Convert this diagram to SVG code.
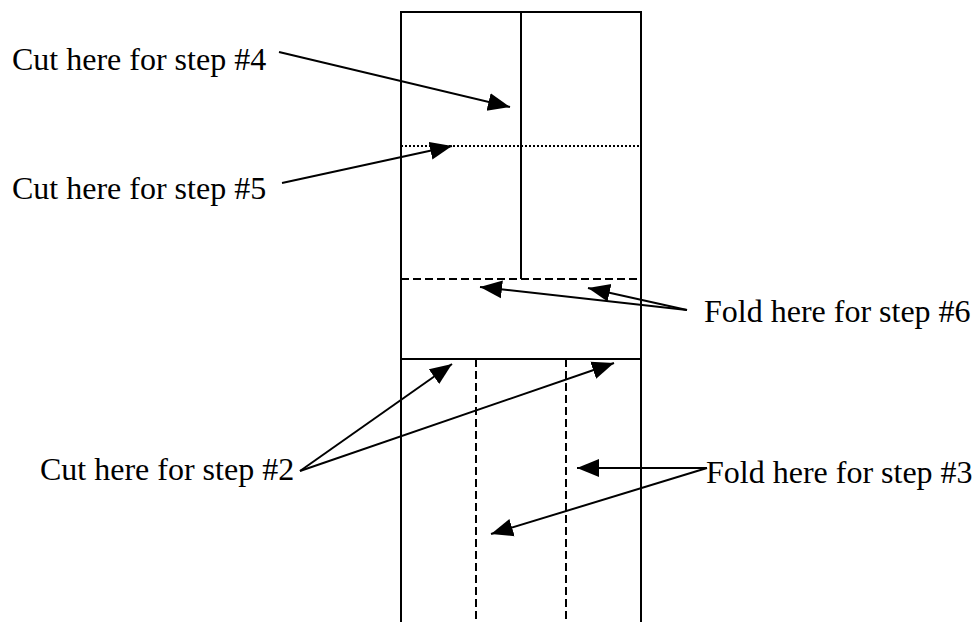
<svg xmlns="http://www.w3.org/2000/svg" width="974" height="622" viewBox="0 0 974 622">
<style>
.solid{stroke:#000;stroke-width:2;fill:none}
.dash{stroke:#000;stroke-width:2;fill:none;stroke-dasharray:8,4}
.dot{stroke:#000;stroke-width:2;fill:none;stroke-dasharray:2,2}
.arr{stroke:#000;stroke-width:2;fill:none;marker-end:url(#ah)}
text{font-family:"Liberation Serif","Times New Roman",serif;font-size:32px;fill:#000}
</style>
<defs>
<marker id="ah" markerUnits="userSpaceOnUse" markerWidth="24" markerHeight="20" refX="22" refY="9" orient="auto" viewBox="0 0 24 18">
<path d="M0,0 L22,9 L0,18 z" fill="#000"/>
</marker>
</defs>
<rect width="974" height="622" fill="#fff"/>
<g id="paper">
<line class="solid" x1="401" y1="12" x2="641" y2="12"/>
<line class="solid" x1="401" y1="11" x2="401" y2="622"/>
<line class="solid" x1="641" y1="11" x2="641" y2="622"/>
<line class="solid" x1="521" y1="12" x2="521" y2="279"/>
<line class="dot" x1="401" y1="146" x2="641" y2="146"/>
<line class="dash" x1="401" y1="279" x2="641" y2="279"/>
<line class="solid" x1="401" y1="359" x2="641" y2="359"/>
<line class="dash" x1="476" y1="359" x2="476" y2="622"/>
<line class="dash" x1="566" y1="359" x2="566" y2="622"/>
</g>
<g id="label-step4"><text x="12" y="70">Cut here for step #4</text></g>
<g id="label-step5"><text x="12" y="199">Cut here for step #5</text></g>
<g id="label-step6"><text x="704" y="322">Fold here for step #6</text></g>
<g id="label-step2"><text x="40" y="480">Cut here for step #2</text></g>
<g id="label-step3"><text x="706" y="483">Fold here for step #3</text></g>
<g id="connectors">
<line class="arr" x1="279" y1="52" x2="510" y2="107"/>
<line class="arr" x1="282" y1="183" x2="452" y2="146"/>
<line class="arr" x1="687" y1="310" x2="480" y2="287"/>
<line class="arr" x1="687" y1="310" x2="588" y2="288"/>
<line class="arr" x1="300" y1="471" x2="452" y2="364"/>
<line class="arr" x1="300" y1="471" x2="614" y2="363"/>
<line class="arr" x1="707" y1="468" x2="577" y2="468"/>
<line class="arr" x1="707" y1="468" x2="491" y2="534"/>
</g>
</svg>
